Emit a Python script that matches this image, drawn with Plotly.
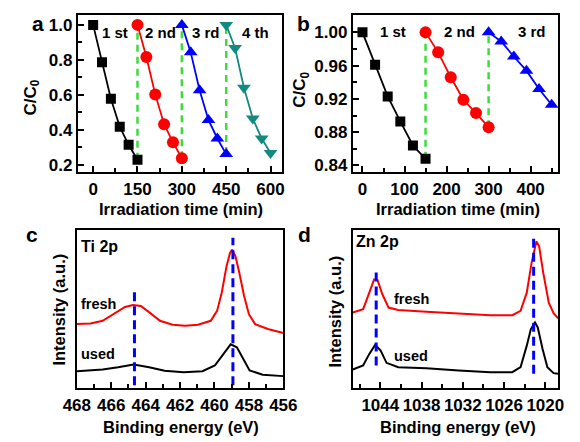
import plotly.graph_objects as go

# ---------------- data ----------------
# panel a: photocatalytic cycles (C/C0 vs irradiation time)
a_time = [[0, 30, 60, 90, 120, 150], [150, 180, 210, 240, 270, 300],
          [300, 330, 360, 390, 420, 450], [450, 480, 510, 540, 570, 600]]
a_c1 = [1.0, 0.786, 0.578, 0.418, 0.315, 0.230]
a_c2 = [1.0, 0.817, 0.603, 0.433, 0.329, 0.238]
a_c3 = [1.0, 0.843, 0.627, 0.457, 0.351, 0.262]
a_c4 = [1.0, 0.868, 0.641, 0.465, 0.351, 0.268]
a_labels = ["1 st", "2 nd", "3 rd", "4 th"]
a_label_x = [75, 229, 382, 549]

# panel b
b_time = [[0, 30, 60, 90, 120, 150], [150, 180, 210, 240, 270, 300],
          [300, 330, 360, 390, 420, 450]]
b_c1 = [1.0, 0.961, 0.923, 0.893, 0.864, 0.848]
b_c2 = [1.0, 0.976, 0.946, 0.919, 0.903, 0.886]
b_c3 = [1.0, 0.989, 0.971, 0.954, 0.932, 0.913]
b_labels = ["1 st", "2 nd", "3 rd"]
b_label_x = [73, 231, 404]

# panel c: Ti 2p XPS
ti_fresh_x = [468.0, 467.2, 466.5, 465.75, 465.2, 464.74, 464.28, 463.73, 463.17, 462.43,
              461.7, 460.96, 460.22, 459.85, 459.58, 459.3, 459.1, 458.97, 458.78, 458.56,
              458.28, 458.0, 457.64, 456.9, 456.0]
ti_fresh_y = [64.7, 65.3, 68, 75.7, 82, 84, 83, 75.7, 68, 64,
              63, 64, 68, 78, 96.3, 123, 136.3, 139.7, 133, 116.3,
              93, 74.7, 64.7, 59.7, 55.7]
ti_used_x = [468.0, 466.5, 465.6, 464.7, 463.8, 462.9, 461.8, 460.7, 459.98, 459.43,
             459.06, 458.7, 458.33, 457.96, 457.2, 456.0]
ti_used_y = [17.3, 19, 21.3, 24, 21.3, 17.7, 16.3, 17.3, 23, 36.3,
             44.3, 41.3, 29.7, 18, 13.7, 12.3]
ti_peaks = [464.65, 458.93]
ti_peak_top = [101.7, 151.7]

# panel d: Zn 2p XPS
zn_fresh_x = [1048.0, 1046.5, 1045.6, 1044.9, 1044.4, 1043.7, 1042.8, 1041.4, 1037.3, 1032.6,
              1028.0, 1024.8, 1023.6, 1022.7, 1022.0, 1021.3, 1020.9, 1020.3, 1019.5, 1018.8, 1018.1]
zn_fresh_y = [76.3, 79.7, 96.3, 109.7, 109, 94.7, 81.3, 79, 77, 75,
              73.7, 73.7, 78, 96.3, 126.3, 148, 143, 116.3, 86.3, 75.7, 70.3]
zn_used_x = [1048.0, 1046.5, 1045.6, 1044.75, 1043.95, 1043.1, 1041.4, 1037.3, 1032.6, 1028.0,
             1024.8, 1023.6, 1022.7, 1022.1, 1021.5, 1021.1, 1020.4, 1019.7, 1018.8, 1018.1]
zn_used_y = [19, 23, 34.7, 43.7, 38, 25.7, 21.3, 20.3, 18, 16.3,
             16.3, 21.3, 43, 59.7, 66.3, 61.3, 39.7, 21.3, 15.3, 14.7]
zn_peaks = [1044.6, 1021.7]
zn_peak_top = [119.7, 154.7]
zn_peak_bottom = [23, 14.7]

W, H = 580, 442
FONT = "Arial, Liberation Sans, Helvetica, sans-serif"
GREEN = "#3ddc3d"
TEAL = "#138a80"


def dom_x(l, r):
    return [l / W, r / W]


def dom_y(t, b):
    return [1 - b / H, 1 - t / H]


fig = go.Figure()

# ---- panel a ----
series_a = [(a_c1, "black", "square", 10), (a_c2, "red", "circle", 12),
            (a_c3, "blue", "triangle-up", 12), (a_c4, TEAL, "triangle-down", 12)]
for i in range(1, 4):
    prev = [a_c1, a_c2, a_c3][i - 1]
    fig.add_trace(go.Scatter(x=[a_time[i][0], a_time[i][0]], y=[prev[-1], series_a[i][0][0]],
                             mode="lines", line=dict(color=GREEN, width=2.5, dash="7px,5px"),
                             xaxis="x", yaxis="y", showlegend=False))
for t, (vals, col, sym, sz) in zip(a_time, series_a):
    fig.add_trace(go.Scatter(x=t, y=vals, mode="lines+markers",
                             line=dict(color=col, width=1.8),
                             marker=dict(symbol=sym, size=sz, color=col),
                             xaxis="x", yaxis="y", showlegend=False))

# ---- panel b ----
series_b = [(b_c1, "black", "square", 10), (b_c2, "red", "circle", 12),
            (b_c3, "blue", "triangle-up", 12)]
for i in range(1, 3):
    prev = [b_c1, b_c2][i - 1]
    fig.add_trace(go.Scatter(x=[b_time[i][0], b_time[i][0]], y=[prev[-1], series_b[i][0][0]],
                             mode="lines", line=dict(color=GREEN, width=2.5, dash="7px,5px"),
                             xaxis="x2", yaxis="y2", showlegend=False))
for t, (vals, col, sym, sz) in zip(b_time, series_b):
    fig.add_trace(go.Scatter(x=t, y=vals, mode="lines+markers",
                             line=dict(color=col, width=1.8),
                             marker=dict(symbol=sym, size=sz, color=col),
                             xaxis="x2", yaxis="y2", showlegend=False))

# ---- panel c ----
fig.add_trace(go.Scatter(x=ti_fresh_x, y=ti_fresh_y, mode="lines",
                         line=dict(color="red", width=2), xaxis="x3", yaxis="y3", showlegend=False))
fig.add_trace(go.Scatter(x=ti_used_x, y=ti_used_y, mode="lines",
                         line=dict(color="black", width=2), xaxis="x3", yaxis="y3", showlegend=False))
for p, top in zip(ti_peaks, ti_peak_top):
    fig.add_trace(go.Scatter(x=[p, p], y=[3, top], mode="lines",
                             line=dict(color="blue", width=3, dash="9px,5px"),
                             xaxis="x3", yaxis="y3", showlegend=False))

# ---- panel d ----
fig.add_trace(go.Scatter(x=zn_fresh_x, y=zn_fresh_y, mode="lines",
                         line=dict(color="red", width=2), xaxis="x4", yaxis="y4", showlegend=False))
fig.add_trace(go.Scatter(x=zn_used_x, y=zn_used_y, mode="lines",
                         line=dict(color="black", width=2), xaxis="x4", yaxis="y4", showlegend=False))
for p, top, bot in zip(zn_peaks, zn_peak_top, zn_peak_bottom):
    fig.add_trace(go.Scatter(x=[p, p], y=[bot, top], mode="lines",
                             line=dict(color="blue", width=3, dash="9px,5px"),
                             xaxis="x4", yaxis="y4", showlegend=False))

tickfont = dict(family=FONT, size=17, color="black", weight="bold")


def axis(domain, rng, **kw):
    d = dict(domain=domain, range=rng, showline=True, mirror=True, linecolor="black",
             linewidth=2, ticks="inside", ticklen=6, tickwidth=1.6, tickcolor="black",
             showgrid=False, zeroline=False, tickfont=tickfont, fixedrange=True)
    d.update(kw)
    return d


fig.update_layout(
    width=W, height=H, margin=dict(l=0, r=0, t=0, b=0),
    paper_bgcolor="white", plot_bgcolor="white",
    xaxis=axis(dom_x(67, 282), [-52, 640], anchor="y", tickvals=[0, 150, 300, 450, 600],
               minor=dict(dtick=75, tick0=0, ticks="inside", ticklen=4, tickcolor="black")),
    yaxis=axis(dom_y(15, 173.3), [0.159, 1.057], anchor="x", tickvals=[0.2, 0.4, 0.6, 0.8, 1.0],
               ticktext=["0.2", "0.4", "0.6", "0.8", "1.0"],
               minor=dict(dtick=0.1, tick0=0, ticks="inside", ticklen=4, tickcolor="black")),
    xaxis2=axis(dom_x(356, 572), [-23, 466], anchor="y2", tickvals=[0, 100, 200, 300, 400],
                minor=dict(dtick=50, tick0=0, ticks="inside", ticklen=4, tickcolor="black")),
    yaxis2=axis(dom_y(15, 173.3), [0.832, 1.021], anchor="x2",
                tickvals=[0.84, 0.88, 0.92, 0.96, 1.00],
                ticktext=["0.84", "0.88", "0.92", "0.96", "1.00"],
                minor=dict(dtick=0.02, tick0=0.84, ticks="inside", ticklen=4, tickcolor="black")),
    xaxis3=axis(dom_x(66, 283), [468, 456], anchor="y3",
                tickvals=[468, 466, 464, 462, 460, 458, 456],
                minor=dict(dtick=1, tick0=456, ticks="inside", ticklen=4, tickcolor="black")),
    yaxis3=axis(dom_y(232, 391), [0, 159], anchor="x3", ticks="", showticklabels=False),
    xaxis4=axis(dom_x(356, 572), [1048, 1018.1], anchor="y4",
                tickvals=[1044, 1038, 1032, 1026, 1020],
                minor=dict(dtick=3, tick0=1020, ticks="inside", ticklen=4, tickcolor="black")),
    yaxis4=axis(dom_y(232, 391), [0, 159], anchor="x4", ticks="", showticklabels=False),
)

ann = []
bold = dict(family=FONT, color="black", weight="bold")


def txt(text, x, y, size, xref="paper", yref="paper", xanchor="center", yanchor="middle", angle=0):
    ann.append(dict(text=text, x=x, y=y, xref=xref, yref=yref, xanchor=xanchor,
                    yanchor=yanchor, showarrow=False, textangle=angle,
                    font=dict(size=size, **bold)))


# panel letters
txt("a", 25 / W, 1 - 24 / H, 21)
txt("b", 304 / W, 1 - 24 / H, 21)
txt("c", 19 / W, 1 - 236 / H, 21)
txt("d", 305 / W, 1 - 236 / H, 21)
# axis titles
txt("C/C<sub>0</sub>", 19 / W, 1 - 98 / H, 17, angle=-90)
txt("C/C<sub>0</sub>", 302 / W, 1 - 90 / H, 17, angle=-90)
txt("Irradiation time (min)", 175 / W, 1 - 210 / H, 16.5)
txt("Irradiation time (min)", 467 / W, 1 - 210 / H, 16.5)
txt("Intensity (a.u.)", 47 / W, 1 - 312 / H, 16.5, angle=-90)
txt("Intensity (a.u.)", 337 / W, 1 - 314 / H, 16.5, angle=-90)
txt("Binding energy (eV)", 175 / W, 1 - 430 / H, 16.5)
txt("Binding energy (eV)", 467 / W, 1 - 430 / H, 16.5)
# cycle labels
for lab, lx in zip(a_labels, a_label_x):
    txt(lab, lx, 0.956, 15, xref="x", yref="y")
for lab, lx in zip(b_labels, b_label_x):
    txt(lab, lx, 1.001, 15, xref="x2", yref="y2")
# XPS labels
txt("Ti 2p", 467.85, 143, 16, xref="x3", yref="y3", xanchor="left")
txt("fresh", 467.85, 84.7, 14.5, xref="x3", yref="y3", xanchor="left")
txt("used", 467.85, 34.7, 14.5, xref="x3", yref="y3", xanchor="left")
txt("Zn 2p", 1047.85, 148, 16, xref="x4", yref="y4", xanchor="left")
txt("fresh", 1042.3, 90.3, 14.5, xref="x4", yref="y4", xanchor="left")
txt("used", 1042.3, 32.3, 14.5, xref="x4", yref="y4", xanchor="left")

fig.update_layout(annotations=ann)
fig.write_html("out.html", config={"displayModeBar": False},
               post_script="document.body.style.margin='0';document.body.style.padding='0';")
